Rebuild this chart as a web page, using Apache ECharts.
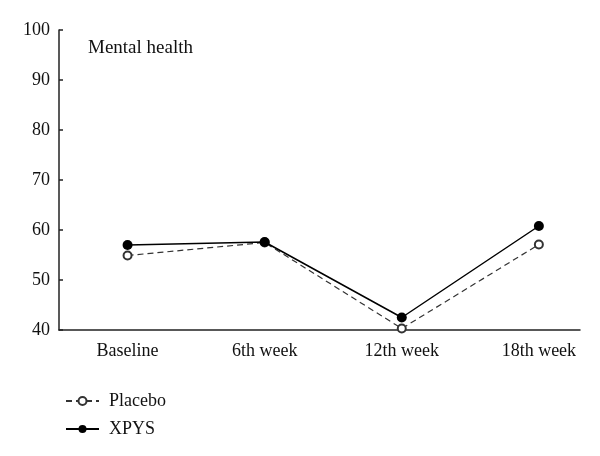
<!DOCTYPE html>
<html>
<head>
<meta charset="utf-8">
<script src="https://cdn.jsdelivr.net/npm/echarts@6/dist/echarts.min.js"></script>
<style>
  html, body { margin: 0; padding: 0; background: #fff; }
  #chart { width: 600px; height: 456px; }
</style>
</head>
<body>
<div id="chart"></div>
<script>
// categories along x
const weeks = ['Baseline', '6th week', '12th week', '18th week'];
// mental health scores
const placebo = [54.9, 57.5, 40.3, 57.1];
const xpys = [57.0, 57.6, 42.5, 60.8];
const yTicks = [40, 50, 60, 70, 80, 90, 100];

const font = '"Liberation Serif", "DejaVu Serif", serif';

const chart = echarts.init(document.getElementById('chart'), null, { renderer: 'canvas' });

const toPairs = (arr) => arr.map((v, i) => [i, v]);

chart.setOption({
    backgroundColor: '#fff',
    animation: false,
    textStyle: { fontFamily: font },
    grid: { left: 59, right: 20, top: 30, bottom: 126, containLabel: false },
    title: {
        text: 'Mental health',
        left: 83,
        top: 34,
        textStyle: { fontFamily: font, fontSize: 19, fontWeight: 'normal', color: '#111' },
    },
    legend: {
        orient: 'vertical',
        left: 60,
        top: 387,
        itemWidth: 33,
        itemHeight: 10,
        itemGap: 10,
        textStyle: { fontFamily: font, fontSize: 18, color: '#111', padding: [0, 0, 0, 5] },
        data: ['Placebo', 'XPYS'],
    },
    xAxis: {
        type: 'value',
        min: -0.5,
        max: 3.3,
        axisLine: { show: true, onZero: false, lineStyle: { color: '#222', width: 1.5 } },
        axisTick: { show: false },
        splitLine: { show: false },
        axisLabel: {
            customValues: [0, 1, 2, 3],
            formatter: (v) => weeks[v],
            color: '#111',
            fontFamily: font,
            fontSize: 18,
            margin: 12,
        },
    },
    yAxis: {
        type: 'value',
        min: 40,
        max: 100,
        interval: 10,
        axisLine: { show: true, onZero: false, lineStyle: { color: '#222', width: 1.5 } },
        axisTick: { show: true, inside: true, length: 4, lineStyle: { color: '#222', width: 1.5 } },
        splitLine: { show: false },
        axisLabel: {
            customValues: yTicks,
            color: '#111',
            fontFamily: font,
            fontSize: 18,
            margin: 9,
        },
    },
    series: [
        {
            name: 'Placebo',
            type: 'line',
            data: toPairs(placebo),
            symbol: 'emptyCircle',
            symbolSize: 8,
            lineStyle: { color: '#333', width: 1.2, type: [6, 4] },
            itemStyle: { color: '#333', borderColor: '#333', borderWidth: 1.2 },
            z: 2,
        },
        {
            name: 'XPYS',
            type: 'line',
            data: toPairs(xpys),
            symbol: 'circle',
            symbolSize: 10,
            lineStyle: { color: '#000', width: 1.5 },
            itemStyle: { color: '#000' },
            z: 3,
        },
    ],
});
</script>
</body>
</html>
